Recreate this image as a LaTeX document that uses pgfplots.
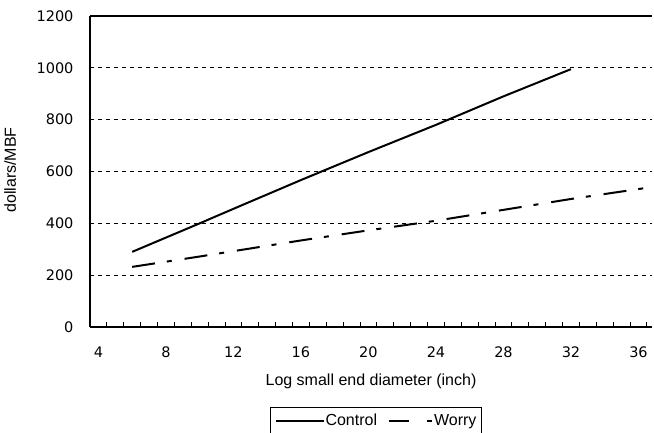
\documentclass[border=0pt]{standalone}
\usepackage{pgfplots}
\pgfplotsset{compat=1.18}
\usepackage{fontspec}
\setmainfont{Liberation Sans}
\newfontfamily\tickfont{DejaVu Sans}
\pgfplotsset{worrylegend/.style={legend image code/.code={\draw[##1, dash pattern=on 20pt off 18pt on 5pt off 5pt] (0pt,0pt) -- (43pt,0pt);}}}
\begin{document}
\begin{tikzpicture}
\path[use as bounding box] (-90pt,-105pt) rectangle (564pt,327pt);
\begin{axis}[
  scale only axis, width=562pt, height=311pt,
  at={(0,0)}, anchor=south west,
  xmin=3.5, xmax=36.8, ymin=0, ymax=1200,
  axis x line*=bottom, axis y line*=left,
  axis line style={line width=1.2pt, -},
  xtick={4,8,...,36}, ytick={0,200,...,1200},
  minor xtick={4.5,5.5,...,36.5},
  major tick length=0pt, minor tick length=5pt,
  tick style={black, line width=1pt},
  tick align=inside,
  ymajorgrids,
  major grid style={black, line width=0.8pt, dash pattern=on 4pt off 4pt},
  /pgf/number format/assume math mode=true,
  /pgf/number format/1000 sep={},
  tick label style={font=\tickfont\fontsize{14.5}{17}\selectfont},
  xticklabel style={yshift=-16pt},
  yticklabel style={xshift=-13pt},
  label style={font=\fontsize{16}{19}\selectfont},
  xlabel={Log small end diameter (inch)},
  ylabel={dollars/MBF},
  xlabel style={at={(axis description cs:0.5,0)}, anchor=center, yshift=-54pt},
  ylabel style={at={(axis description cs:-0.142,0.505)}, anchor=center},
  legend columns=2,
  legend style={at={(axis description cs:0.5,0)}, anchor=north, xshift=5pt, yshift=-80pt,
    draw=black, line width=0.6pt, font=\fontsize{16}{19}\selectfont,
    inner xsep=4pt, inner ysep=5pt,
    /tikz/every even column/.append style={column sep=10pt},
    nodes={inner xsep=1pt}},
  legend image code/.code={\draw[#1] (0pt,0pt) -- (48pt,0pt);},
]
\addplot[black, line width=2pt] coordinates {
  (6,290) (10,400) (12,456) (16,567) (20,675) (24,780) (28,890) (32,995)
};
\addlegendentry{Control}
\addplot[black, line width=2pt, dash pattern=on 23pt off 12pt on 5pt off 13pt, worrylegend] coordinates {
  (6,232) (10,272) (16,334) (20,373) (24,410) (28,452) (32,494) (36.8,540)
};
\addlegendentry{Worry}
\end{axis}
\draw[line width=1.2pt] (0,311pt) -- (562pt,311pt);
\end{tikzpicture}
\end{document}
